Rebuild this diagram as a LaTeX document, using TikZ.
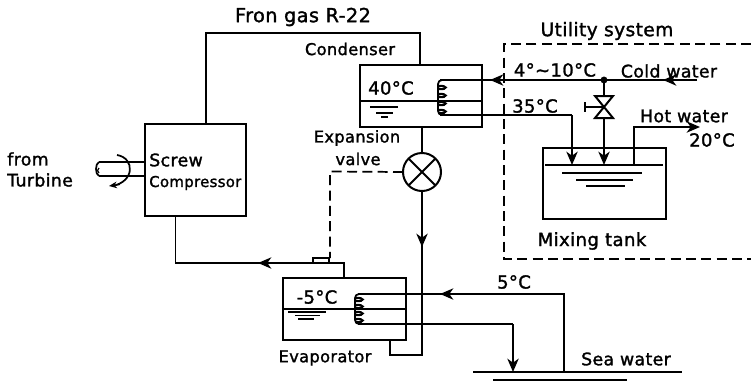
\documentclass[tikz,border=0pt]{standalone}
\usepackage{fontspec}
\setmainfont{DejaVu Sans}[FakeBold=1.5, LetterSpace=2]
\usetikzlibrary{arrows.meta,calc}
\tikzset{
    pipe/.style={line width=1.3pt},
    vessel/.style={draw, line width=1.5pt, inner sep=0pt, outer sep=0pt},
    signal/.style={line width=1.3pt, dash pattern=on 7.5pt off 4pt},
    level/.style={line width=1pt},
    lbl/.style={inner sep=0pt, font=\fontsize{13}{15}\selectfont},
    smalllbl/.style={inner sep=0pt, font=\fontsize{12.2}{15}\selectfont},
    templbl/.style={inner sep=0pt, font=\fontsize{13.5}{16}\selectfont},
    flow/.style={-{Stealth[length=10pt,width=8.5pt,inset=3pt]}, line width=1.3pt}
}
\begin{document}
\begin{tikzpicture}[x=0.75pt, y=-0.75pt]
    \useasboundingbox (0,0) rectangle (751,383);

    % =========================================================================
    % EQUIPMENT
    % =========================================================================
    \node[vessel, minimum width=75.75pt, minimum height=69pt] (compressor) at (195.5,169.5) {};
    \node[vessel, minimum width=91.5pt, minimum height=46.5pt] (condenser) at (421,96) {};
    \node[vessel, minimum width=92.25pt, minimum height=46.5pt] (evaporator) at (344.5,309) {};
    \node[vessel, minimum width=92.25pt, minimum height=53.25pt] (tank) at (604.5,183.5) {};
    \node[draw, circle, line width=1.5pt, minimum size=28.5pt, inner sep=0pt, outer sep=0pt] (expvalve) at (422,172) {};

    % Vanne d'expansion
    \draw[line width=1.4pt] (expvalve.45) -- (expvalve.225) (expvalve.135) -- (expvalve.315);

    % Niveaux de liquide
    \draw[pipe] (360,101) -- (482,101);
    \draw[level] (370,107) -- (398,107) (376,113) -- (393,113) (381,117) -- (388,117);
    \draw[pipe] (283,309) -- (406,309);
    \draw[level] (288,312) -- (326,312) (295,315.5) -- (320,315.5) (298,319) -- (314,319);
    \draw[pipe] (545,165) -- (663,165);
    \draw[level] (562,173) -- (642,173) (576,180) -- (633,180) (586,186) -- (625,186);

    % =========================================================================
    % REFRIGERANT LOOP
    % =========================================================================
    \coordinate (gasstart) at (206,123);
    \coordinate (gasend) at (420,65);
    \draw[pipe] (gasstart) -- (206,33) -- (420,33) -- (gasend);

    \draw[pipe] (422,127) -- (expvalve.north);
    \draw[flow] (expvalve.south) -- (422,247);
    \draw[pipe] (422,245) -- (422,355) -- (390,355) -- (390,340);

    \coordinate (suction) at (344,278);
    \draw[flow] (suction) -- (344,263) -- (258,263);
    \draw[pipe] (260,263) -- (175.5,263) -- (175.5,216);

    % Bulbe et ligne de commande
    \draw[pipe] (313,263) -- (313,258) -- (329,258) -- (329,263);
    \draw[signal] (expvalve.west) -- (330,171.5) -- (330,258);

    % =========================================================================
    % COILS
    % =========================================================================
    \foreach \y in {86,94,102,110} {
        \draw[line width=1.6pt] (438,\y) .. controls (448,{\y-1}) and (448,{\y+4}) .. (439,{\y+3});
    }
    \draw[pipe, rounded corners=3pt] (443,80) -- (438,80) -- (438,115) -- (443,115);
    \foreach \y in {298,305,312,319} {
        \draw[line width=1.6pt] (355,\y) .. controls (365,{\y-1}) and (365,{\y+4}) .. (356,{\y+3});
    }
    \draw[pipe, rounded corners=3pt] (360,294) -- (355,294) -- (355,324) -- (360,324);

    % =========================================================================
    % UTILITY SYSTEM
    % =========================================================================
    \draw[signal, line width=1.4pt] (751,44) -- (504,44) -- (504,259) -- (751,259);

    \draw[flow] (697,80) -- (663,80);
    \draw[pipe] (665,80) -- (604,80);
    \draw[flow] (604,80) -- (490,80);
    \draw[pipe] (492,80) -- (440,80);
    \fill (604,80) circle (2.6pt);

    \draw[pipe] (440,115) -- (572,115);
    \draw[flow] (572,115) -- (572,165);

    % Vanne manuelle
    \coordinate (vtop) at (604,96);
    \coordinate (vmid) at (604,107);
    \coordinate (vbot) at (604,118);
    \draw[pipe] (604,80) -- (vtop);
    \draw[line width=1.5pt] (595,96) -- (613,96) -- (595,118) -- (613,118) -- cycle;
    \draw[pipe] (585,102) -- (585,112) (585,107) -- (vmid);
    \draw[flow] (vbot) -- (604,165);

    \coordinate (hotstart) at (634,165);
    \draw[pipe] (hotstart) -- (634,127) -- (680,127);
    \draw[flow] (678,127) -- (700,127);

    % =========================================================================
    % SEA WATER
    % =========================================================================
    \draw[pipe] (564,372) -- (564,294) -- (442,294);
    \draw[flow] (564,294) -- (440,294);
    \draw[pipe] (442,294) -- (358,294);
    \draw[pipe] (358,324) -- (513,324);
    \draw[flow] (513,324) -- (513,372);
    \draw[line width=1.5pt] (473,372) -- (682,372);
    \draw[line width=1.5pt] (493,379.5) -- (627,379.5);

    % =========================================================================
    % SHAFT
    % =========================================================================
    \draw[pipe] (145,162) -- (99,162) (145,176) -- (99,176);
    \draw[pipe] (99,162) .. controls (95,164) and (95,174) .. (99,176);
    \draw[line width=0.9pt] (99,168) .. controls (97,169) and (97,172) .. (99,173);
    \draw[pipe] (117,155) .. controls (135,158) and (135,182) .. (112,186);
    \draw[-{Stealth[length=6pt,width=5pt]}, line width=0.9pt] (120,184.5) -- (109,186);

    % =========================================================================
    % LABELS
    % =========================================================================
    \node[lbl, font=\fontsize{14.5}{17}\selectfont] (gaslabel) at (303,17) {Fron gas R-22};
    \node[smalllbl] (condlabel) at (350,49) {Condenser};
    \node[lbl, font=\fontsize{14}{17}\selectfont] (utillabel) at (607,31) {Utility system};
    \node[templbl] (condtemp) at (391,88) {40°C};
    \node[templbl] (coldtemp) at (555,70) {4°∼10°C};
    \node[lbl] (coldlabel) at (669,71) {Cold water};
    \node[templbl] (mixtemp) at (535,106) {35°C};
    \node[lbl] (hotlabel) at (684,116) {Hot water};
    \node[templbl] (hottemp) at (712,140) {20°C};
    \node[smalllbl] (explabel1) at (357,138) {Expansion};
    \node[smalllbl] (explabel2) at (358,159) {valve};
    \node[lbl, anchor=west] (turblabel1) at (7,159) {from};
    \node[lbl, anchor=west] (turblabel2) at (7,180) {Turbine};
    \node[lbl, anchor=west] (complabel1) at (149,160) {Screw};
    \node[lbl, anchor=west, font=\fontsize{11.2}{14}\selectfont] (complabel2) at (149,183) {Compressor};
    \node[templbl] (evaptemp) at (317,297) {-5°C};
    \node[smalllbl] (evaplabel) at (325,358) {Evaporator};
    \node[templbl] (seatemp) at (514,282) {5°C};
    \node[lbl, font=\fontsize{13.6}{16}\selectfont] (tanklabel) at (592,241) {Mixing tank};
    \node[lbl] (sealabel) at (626,359) {Sea water};

\end{tikzpicture}
\end{document}
